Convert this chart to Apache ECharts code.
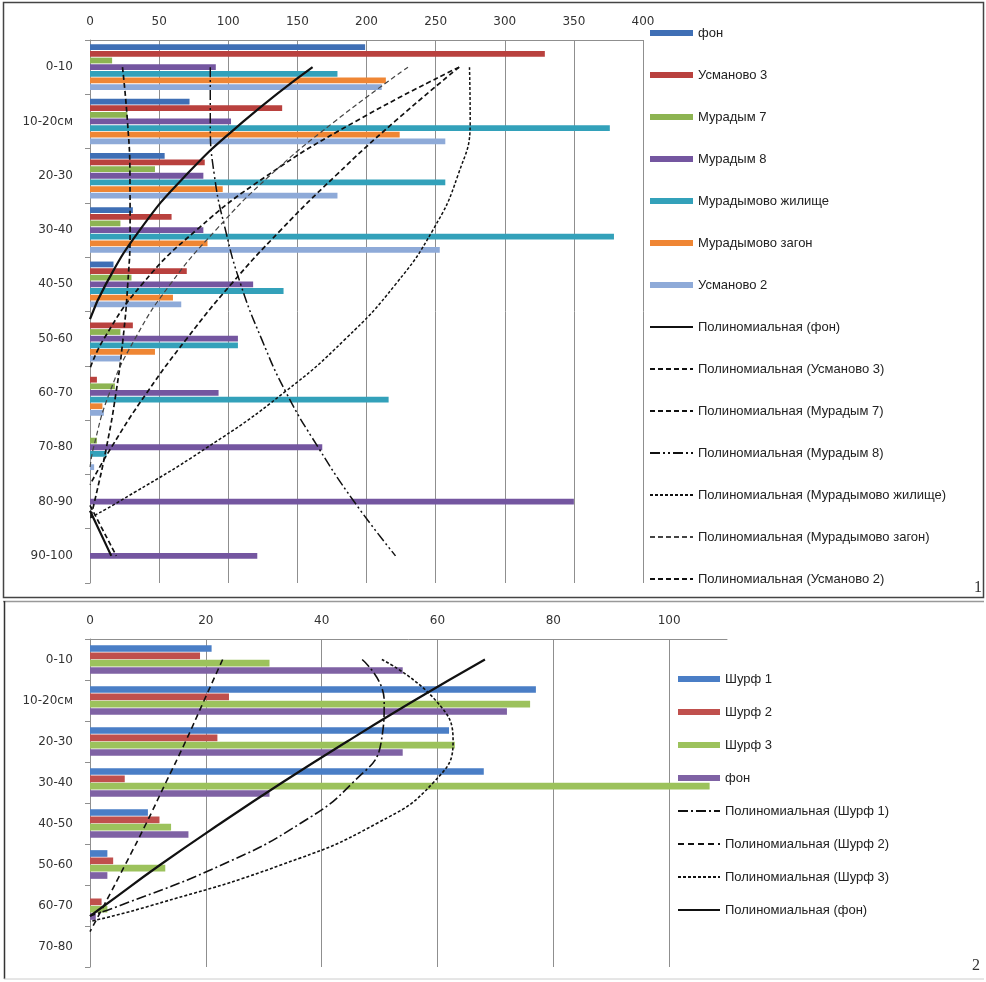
<!DOCTYPE html>
<html><head><meta charset="utf-8">
<script src="https://cdn.jsdelivr.net/npm/echarts@6/dist/echarts.min.js"></script>
<style>html,body{margin:0;padding:0;background:#fff}#c{width:986px;height:982px}</style>
</head><body><div id="c"></div>
<script>
// ---------- Panel 1 data ----------
const depths1 = ['0-10','10-20см','20-30','30-40','40-50','50-60','60-70','70-80','80-90','90-100'];
const fon1   = [199, 72, 54, 31, 17, 0, 0, 0, 0, 0];
const usm3   = [329, 139, 83, 59, 70, 31, 5, 0, 0, 0];
const mur7   = [16, 27, 47, 22, 30, 22, 18, 5, 0, 0];
const mur8   = [91, 102, 82, 82, 118, 107, 93, 168, 350, 121];
const zhil   = [179, 376, 257, 379, 140, 107, 216, 12, 0, 0];
const zagon  = [214, 224, 96, 85, 60, 47, 9, 0, 0, 0];
const usm2   = [211, 257, 179, 253, 66, 22, 10, 3, 0, 0];
const ticks1 = [0, 50, 100, 150, 200, 250, 300, 350, 400];
// trend lines: [value, depth position (0 = first row)]
const GAP = ['-', '-'];
const trFon1 = [[161,0],[111,1],[69,2],[36,3],[11.4,4],[0,4.64],GAP,[0,8.17],[15.4,9]];
const trUsm3 = [[267,0],[192,1],[128,2],[77,3],[37.6,4],[10.1,5],[0,5.55],GAP,[0,8.07],[19,9]];
const trMur7 = [[23.5,0],[27.1,1],[28.9,2],[29,3],[27.3,4],[23.9,5],[18.8,6],[11.9,7],[3.3,8],[0,8.33]];
const trMur8 = [[87,0],[87,1],[90,2],[98,3],[109,4],[124,5],[142,6],[165,7],[191,8],[221,9]];
const trZhil = [[274.5,0],[275,1],[266,2],[248,3],[221,4],[185,5],[140,6],[85,7],[21,8],[0,8.3]];
const trZagon = [[230,0],[177,1],[130,2],[91,3],[58,4],[32.6,5],[14.1,6],[2.6,7],[0,7.39]];
const trUsm2 = [[267,0],[220.5,1],[177.6,2],[138,3],[102,4],[70,5],[41,6],[15.5,7],[0,7.69]];

// ---------- Panel 2 data ----------
const depths2 = ['0-10','10-20см','20-30','30-40','40-50','50-60','60-70','70-80'];
const shurf1 = [21, 77, 62, 68, 10, 3, 0, 0];
const shurf2 = [19, 24, 22, 6, 12, 4, 2, 0];
const shurf3 = [31, 76, 63, 107, 14, 13, 3, 0];
const fon2   = [54, 72, 54, 31, 17, 3, 1, 0];
const ticks2 = [0, 20, 40, 60, 80, 100];
const trSh1  = [[47,0],[50.8,1],[50.3,2],[45.4,3],[36.3,4],[22.9,5],[5.2,6],[0,6.25]];
const trSh2  = [[22.9,0],[19.7,1],[16.5,2],[13.1,3],[9.7,4],[6.1,5],[2.4,6],[0,6.64]];
const trSh3  = [[50.4,0],[59.7,1],[62.7,2],[59.3,3],[49.5,4],[33.2,5],[10.6,6],[0,6.39]];
const trFon2 = [[68.2,0],[56,1],[44.4,2],[33.2,3],[22.5,4],[12.2,5],[2.5,6],[0,6.26]];

const FONT = 'DejaVu Sans';
const LFONT = 'Liberation Sans';
const gridGray = '#8f8f8f';

function bar(name, data, color, xi, yi, barOpts) {
  return Object.assign({ type:'bar', name, data, xAxisIndex:xi, yAxisIndex:yi,
    itemStyle:{color}, silent:true }, barOpts||{});
}
function trend(name, data, xi, yi, dash, width, color) {
  return { type:'line', name, data, xAxisIndex:xi, yAxisIndex:yi, symbol:'none',
    smooth:0.5, clip:true, silent:true, z:5, connectNulls:false,
    lineStyle:{ color: color||'#111', width: width||1.6, type: dash },
    itemStyle:{ color: color||'#111' } };
}
function lineLegend(name) { return { name, itemStyle:{ opacity:0 } }; }
function barLegend(name) { return { name, icon:'rect' }; }

const b1 = { barCategoryGap:'16%', barGap:'15%' };
const b2 = { barCategoryGap:'30%', barGap:'10%' };

const axisLabelStyle = { fontFamily:FONT, fontSize:12, color:'#333' };

const option = {
  animation:false,
  backgroundColor:'#fff',
  grid:[
    { left:90, top:40, width:553, height:543 },
    { left:90, top:639, width:637, height:328 }
  ],
  xAxis:[
    { gridIndex:0, type:'value', position:'top', min:ticks1[0], max:ticks1[ticks1.length-1], interval:ticks1[1]-ticks1[0],
      axisLine:{show:true, onZero:false, lineStyle:{color:gridGray}}, axisTick:{show:false},
      axisLabel:Object.assign({margin:12}, axisLabelStyle),
      splitLine:{show:true, lineStyle:{color:gridGray, width:1}} },
    { gridIndex:1, type:'value', position:'top', min:ticks2[0], max:110, interval:ticks2[1]-ticks2[0],
      axisLine:{show:true, onZero:false, lineStyle:{color:gridGray}}, axisTick:{show:false},
      axisLabel:Object.assign({margin:12, showMaxLabel:false}, axisLabelStyle),
      splitLine:{show:true, showMaxLine:false, lineStyle:{color:gridGray, width:1}} }
  ],
  yAxis:[
    { gridIndex:0, type:'category', data:depths1, inverse:true,
      axisLine:{show:true, onZero:false, lineStyle:{color:gridGray}},
      axisTick:{show:true, length:5, lineStyle:{color:gridGray}},
      axisLabel:Object.assign({margin:17}, axisLabelStyle) },
    { gridIndex:0, type:'value', min:-0.5, max:depths1.length-0.5, inverse:true, show:false,
      axisLine:{show:false, onZero:false}, splitLine:{show:false} },
    { gridIndex:1, type:'category', data:depths2, inverse:true,
      axisLine:{show:true, onZero:false, lineStyle:{color:gridGray}},
      axisTick:{show:true, length:5, lineStyle:{color:gridGray}},
      axisLabel:Object.assign({margin:17}, axisLabelStyle) },
    { gridIndex:1, type:'value', min:-0.5, max:depths2.length-0.5, inverse:true, show:false,
      axisLine:{show:false, onZero:false}, splitLine:{show:false} }
  ],
  legend:[
    { orient:'vertical', left:649, top:26, padding:0, itemWidth:43, itemHeight:6, itemGap:28,
      textStyle:{fontFamily:LFONT, fontSize:13, lineHeight:14, color:'#222'},
      selectedMode:false,
      data:[
        barLegend('фон'), barLegend('Усманово 3'), barLegend('Мурадым 7'), barLegend('Мурадым 8'),
        barLegend('Мурадымово жилище'), barLegend('Мурадымово загон'), barLegend('Усманово 2'),
        lineLegend('Полиномиальная (фон)'), lineLegend('Полиномиальная (Усманово 3)'),
        lineLegend('Полиномиальная (Мурадым 7)'), lineLegend('Полиномиальная (Мурадым 8)'),
        lineLegend('Полиномиальная (Мурадымово жилище)'), lineLegend('Полиномиальная (Мурадымово загон)'),
        lineLegend('Полиномиальная (Усманово 2)')
      ] },
    { orient:'vertical', left:677, top:672, padding:0, itemWidth:42, itemHeight:6, itemGap:19,
      textStyle:{fontFamily:LFONT, fontSize:13, lineHeight:14, color:'#222'},
      selectedMode:false,
      data:[
        barLegend('Шурф 1'), barLegend('Шурф 2'), barLegend('Шурф 3'), barLegend('фон '),
        lineLegend('Полиномиальная (Шурф 1)'), lineLegend('Полиномиальная (Шурф 2)'),
        lineLegend('Полиномиальная (Шурф 3)'), lineLegend('Полиномиальная (фон) ')
      ] }
  ],
  graphic:[
    { type:'rect', shape:{x:3.5, y:2.5, width:980, height:595}, style:{fill:null, stroke:'#444', lineWidth:1.5}, silent:true },
    { type:'line', shape:{x1:3, y1:601.5, x2:984, y2:601.5}, style:{stroke:'#999', lineWidth:1.5}, silent:true },
    { type:'line', shape:{x1:4.5, y1:601, x2:4.5, y2:979}, style:{stroke:'#333', lineWidth:1.5}, silent:true },
    { type:'line', shape:{x1:4, y1:979, x2:984, y2:979}, style:{stroke:'#ccc', lineWidth:1}, silent:true },
    { type:'text', left:974, top:580, style:{text:'1', font:'16px "Liberation Serif"', fill:'#333'}, silent:true },
    { type:'text', left:972, top:958, style:{text:'2', font:'16px "Liberation Serif"', fill:'#333'}, silent:true }
  ],
  series:[
    bar('фон', fon1, '#3f6fb5', 0, 0, b1),
    bar('Усманово 3', usm3, '#b9413e', 0, 0, b1),
    bar('Мурадым 7', mur7, '#8db452', 0, 0, b1),
    bar('Мурадым 8', mur8, '#7456a0', 0, 0, b1),
    bar('Мурадымово жилище', zhil, '#33a1ba', 0, 0, b1),
    bar('Мурадымово загон', zagon, '#ef8634', 0, 0, b1),
    bar('Усманово 2', usm2, '#8eaad8', 0, 0, b1),
    trend('Полиномиальная (фон)', trFon1, 0, 1, 'solid', 2.2),
    trend('Полиномиальная (Усманово 3)', trUsm3, 0, 1, [5,3], 1.7),
    trend('Полиномиальная (Мурадым 7)', trMur7, 0, 1, [5,3], 1.7),
    trend('Полиномиальная (Мурадым 8)', trMur8, 0, 1, [10,3,2,3,2,3], 1.5),
    trend('Полиномиальная (Мурадымово жилище)', trZhil, 0, 1, [3,2], 1.5),
    trend('Полиномиальная (Мурадымово загон)', trZagon, 0, 1, [5,3], 1.2, '#444'),
    trend('Полиномиальная (Усманово 2)', trUsm2, 0, 1, [5,3], 1.7),

    bar('Шурф 1', shurf1, '#4a7ec6', 1, 2, b2),
    bar('Шурф 2', shurf2, '#c0504d', 1, 2, b2),
    bar('Шурф 3', shurf3, '#9cc25c', 1, 2, b2),
    bar('фон ', fon2, '#7f62a4', 1, 2, b2),
    trend('Полиномиальная (Шурф 1)', trSh1, 1, 3, [10,3,2,3], 1.6),
    trend('Полиномиальная (Шурф 2)', trSh2, 1, 3, [6,4], 1.6),
    trend('Полиномиальная (Шурф 3)', trSh3, 1, 3, [3,2], 1.6),
    trend('Полиномиальная (фон) ', trFon2, 1, 3, 'solid', 2.2)
  ]
};
const chart = echarts.init(document.getElementById('c'), null, {renderer:'canvas'});
chart.setOption(option);
</script>
</body></html>
